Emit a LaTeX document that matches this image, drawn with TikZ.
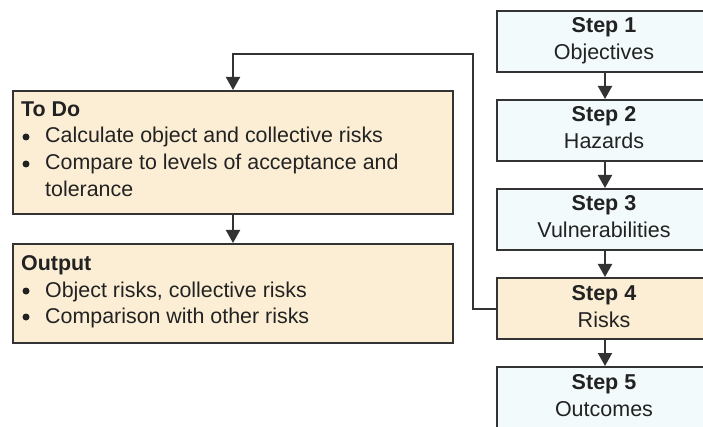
\documentclass[tikz,border=0pt]{standalone}
\usepackage{fontspec}
\setmainfont{Liberation Sans}
\usetikzlibrary{arrows.meta}
\definecolor{lineC}{HTML}{333333}
\definecolor{txtC}{HTML}{222222}
\definecolor{peach}{HTML}{FCEED5}
\definecolor{pale}{HTML}{F2FAFB}
\tikzset{
  box/.style={draw=lineC, line width=2pt, rectangle, inner sep=0pt, anchor=north west},
  stepbox/.style={box, fill=pale, minimum width=216pt, minimum height=61pt},
  hotstep/.style={stepbox, fill=peach},
  infobox/.style={box, fill=peach, minimum width=440pt},
  txt/.style={text=txtC, font=\fontsize{21.4}{25}\selectfont, inner sep=0pt, anchor=base west},
  steptxt/.style={text=txtC, font=\fontsize{21.5}{25}\selectfont, inner sep=0pt, anchor=base},
  dot/.style={circle, fill=txtC, inner sep=0pt, minimum size=7pt},
  conn/.style={draw=lineC, line width=2pt, -{Triangle[width=14pt,length=13pt]}}
}
\begin{document}
\begin{tikzpicture}[x=1pt,y=-1pt]
  \useasboundingbox[fill=white] (0,0) rectangle (703,427);

  % process steps on the right
  \node[stepbox] (s1) at (496,10) {};
  \node[stepbox] (s2) at (496,99) {};
  \node[stepbox] (s3) at (496,188) {};
  \node[hotstep] (s4) at (496,277) {};
  \node[stepbox] (s5) at (496,366) {};

  \node[steptxt] (s1a) at (604,33) {\textbf{Step 1}};
  \node[steptxt] (s1b) at (604,60) {Objectives};
  \node[steptxt] (s2a) at (604,122) {\textbf{Step 2}};
  \node[steptxt] (s2b) at (604,149) {Hazards};
  \node[steptxt] (s3a) at (604,211) {\textbf{Step 3}};
  \node[steptxt] (s3b) at (604,238) {Vulnerabilities};
  \node[steptxt] (s4a) at (604,300) {\textbf{Step 4}};
  \node[steptxt] (s4b) at (604,327) {Risks};
  \node[steptxt] (s5a) at (604,389) {\textbf{Step 5}};
  \node[steptxt] (s5b) at (604,416) {Outcomes};

  % detail boxes on the left
  \node[infobox, minimum height=123pt] (todo) at (12,90) {};
  \node[infobox, minimum height=99pt] (out) at (12,243) {};

  \node[txt] (t0) at (21,117) {\textbf{To Do}};
  \node[dot] (t1b) at (26,137) {};
  \node[txt] (t1) at (45,143) {Calculate object and collective risks};
  \node[dot] (t2b) at (26,164) {};
  \node[txt] (t2) at (45,170) {Compare to levels of acceptance and};
  \node[txt] (t3) at (45,197) {tolerance};

  \node[txt] (o0) at (21,270) {\textbf{Output}};
  \node[dot] (o1b) at (26,291) {};
  \node[txt] (o1) at (45,297) {Object risks, collective risks};
  \node[dot] (o2b) at (26,317) {};
  \node[txt] (o2) at (45,323) {Comparison with other risks};

  % connectors
  \coordinate (bendA) at (473,54);
  \draw[conn] (s1) -- (s2);
  \draw[conn] (s2) -- (s3);
  \draw[conn] (s3) -- (s4);
  \draw[conn] (s4) -- (s5);
  \draw[conn] (s4.west) -| (bendA) -| (todo.north);
  \draw[conn] (todo) -- (out);
\end{tikzpicture}
\end{document}
